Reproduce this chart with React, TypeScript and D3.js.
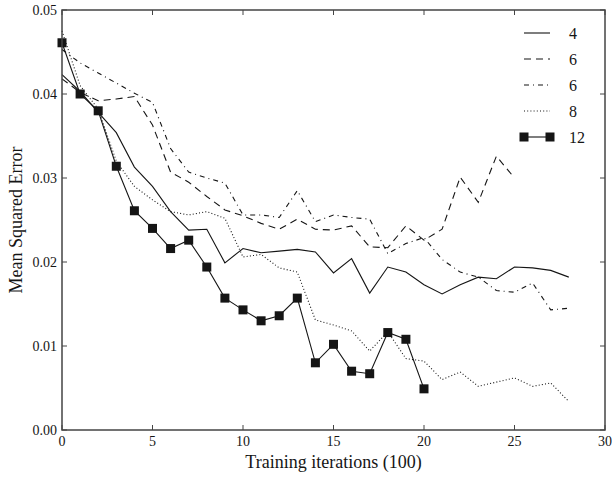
import { useRef, useEffect } from 'react';
import * as d3 from 'd3';

// Mean squared error per 100 training iterations, one list per network size
const mse4 = [0.0423, 0.0403, 0.0378, 0.0354, 0.0313, 0.0290, 0.0260, 0.0238, 0.0239, 0.0199, 0.0216, 0.0211, 0.0213, 0.0215, 0.0212, 0.0187, 0.0204, 0.0163, 0.0194, 0.0188, 0.0173, 0.0162, 0.0173, 0.0182, 0.0180, 0.0194, 0.0193, 0.0190, 0.0182];
const mse6a = [0.0418, 0.0402, 0.0392, 0.0394, 0.0397, 0.0363, 0.0307, 0.0295, 0.0278, 0.0262, 0.0255, 0.0246, 0.0239, 0.0251, 0.0239, 0.0238, 0.0243, 0.0218, 0.0217, 0.0243, 0.0226, 0.0239, 0.0301, 0.0271, 0.0326, 0.0300];
const mse6b = [0.0453, 0.0437, 0.0425, 0.0413, 0.0401, 0.0390, 0.0335, 0.0307, 0.0300, 0.0294, 0.0256, 0.0256, 0.0253, 0.0285, 0.0248, 0.0256, 0.0253, 0.0251, 0.0210, 0.0222, 0.0229, 0.0203, 0.0188, 0.0182, 0.0166, 0.0164, 0.0175, 0.0143, 0.0145];
const mse8 = [0.0475, 0.0410, 0.0382, 0.0320, 0.0290, 0.0274, 0.0260, 0.0256, 0.0260, 0.0252, 0.0206, 0.0209, 0.0193, 0.0188, 0.0131, 0.0125, 0.0118, 0.0094, 0.0117, 0.0085, 0.0082, 0.0060, 0.0069, 0.0052, 0.0057, 0.0062, 0.0052, 0.0056, 0.0034];
const mse12 = [0.0461, 0.0400, 0.0380, 0.0314, 0.0261, 0.0240, 0.0216, 0.0226, 0.0194, 0.0157, 0.0143, 0.0130, 0.0136, 0.0157, 0.0080, 0.0102, 0.0070, 0.0067, 0.0116, 0.0108, 0.0049];

const legendLabels = ['4', '6', '6', '8', '12'];
const xTicks = [0, 5, 10, 15, 20, 25, 30];
const yTicks = [0, 0.01, 0.02, 0.03, 0.04, 0.05];

function App() {
  const ref = useRef<SVGSVGElement>(null);
  const width = 612;
  const height = 477;
  const margin = { top: 10, right: 7, bottom: 47, left: 62 };

  useEffect(() => {
    const svg = d3.select(ref.current);
    svg.selectAll('*').remove();

    const ink = '#151515';
    const axisColor = '#444';

    const x = d3.scaleLinear().domain([0, 30]).range([margin.left, width - margin.right]);
    const y = d3.scaleLinear().domain([0, 0.05]).range([height - margin.bottom, margin.top]);

    const series = [
      { data: mse4, dash: null, marker: false },
      { data: mse6a, dash: '7,5', marker: false },
      { data: mse6b, dash: '5,4,1,4', marker: false },
      { data: mse8, dash: '1,2.2', marker: false },
      { data: mse12, dash: null, marker: true },
    ];

    const line = d3.line<number>()
      .x((d, i) => x(i))
      .y(d => y(d));

    const g = svg.append('g');

    series.forEach(s => {
      g.append('path')
        .attr('d', line(s.data))
        .attr('fill', 'none')
        .attr('stroke', ink)
        .attr('stroke-width', 1.1)
        .attr('stroke-dasharray', s.dash);

      if (s.marker) {
        g.selectAll('rect.m')
          .data(s.data)
          .enter()
          .append('rect')
            .attr('x', (d, i) => x(i) - 4.5)
            .attr('y', d => y(d) - 4.5)
            .attr('width', 9)
            .attr('height', 9)
            .attr('fill', ink);
      }
    });

    // Frame
    const x0 = x(0), x1 = x(30), y0 = y(0), y1 = y(0.05);
    svg.append('rect')
      .attr('x', x0).attr('y', y1)
      .attr('width', x1 - x0).attr('height', y0 - y1)
      .attr('fill', 'none')
      .attr('stroke', axisColor)
      .attr('stroke-width', 1.5);

    // Inward ticks on all four sides
    const tickLen = 5;
    xTicks.forEach(t => {
      svg.append('line').attr('x1', x(t)).attr('x2', x(t)).attr('y1', y0).attr('y2', y0 - tickLen)
        .attr('stroke', axisColor).attr('stroke-width', 1);
      svg.append('line').attr('x1', x(t)).attr('x2', x(t)).attr('y1', y1).attr('y2', y1 + tickLen)
        .attr('stroke', axisColor).attr('stroke-width', 1);
      svg.append('text')
        .attr('x', x(t)).attr('y', y0 + 16)
        .attr('text-anchor', 'middle')
        .style('font-size', '14px').attr('fill', ink)
        .text(t);
    });
    yTicks.forEach(t => {
      svg.append('line').attr('x1', x0).attr('x2', x0 + tickLen).attr('y1', y(t)).attr('y2', y(t))
        .attr('stroke', axisColor).attr('stroke-width', 1);
      svg.append('line').attr('x1', x1).attr('x2', x1 - tickLen).attr('y1', y(t)).attr('y2', y(t))
        .attr('stroke', axisColor).attr('stroke-width', 1);
      svg.append('text')
        .attr('x', x0 - 5).attr('y', y(t) + 4.5)
        .attr('text-anchor', 'end')
        .style('font-size', '14px').attr('fill', ink)
        .text(d3.format('.2f')(t));
    });

    // Axis titles
    svg.append('text')
      .attr('x', (x0 + x1) / 2).attr('y', 468)
      .attr('text-anchor', 'middle')
      .style('font-size', '18px').attr('fill', ink)
      .text('Training iterations (100)');
    svg.append('text')
      .attr('transform', `translate(22, ${(y0 + y1) / 2}) rotate(-90)`)
      .attr('text-anchor', 'middle')
      .style('font-size', '18px').attr('fill', ink)
      .text('Mean Squared Error');

    // Legend
    const lg = svg.append('g');
    series.forEach((s, i) => {
      const ly = 33 + i * 26;
      lg.append('line')
        .attr('x1', 524).attr('x2', 550).attr('y1', ly).attr('y2', ly)
        .attr('stroke', ink).attr('stroke-width', 1.1)
        .attr('stroke-dasharray', s.dash);
      if (s.marker) {
        [524, 550].forEach(mx => {
          lg.append('rect')
            .attr('x', mx - 4.5).attr('y', ly - 4.5)
            .attr('width', 9).attr('height', 9)
            .attr('fill', ink);
        });
      }
      lg.append('text')
        .attr('x', 569).attr('y', ly + 5.5)
        .style('font-size', '16px').attr('fill', ink)
        .text(legendLabels[i]);
    });
  }, [ref]);

  return (
    <svg
      ref={ref}
      width={width}
      height={height}
      style={{ position: 'absolute', left: 0, top: 0, background: '#fff', fontFamily: "'Liberation Serif'" }}
    />
  );
}

export default App;
